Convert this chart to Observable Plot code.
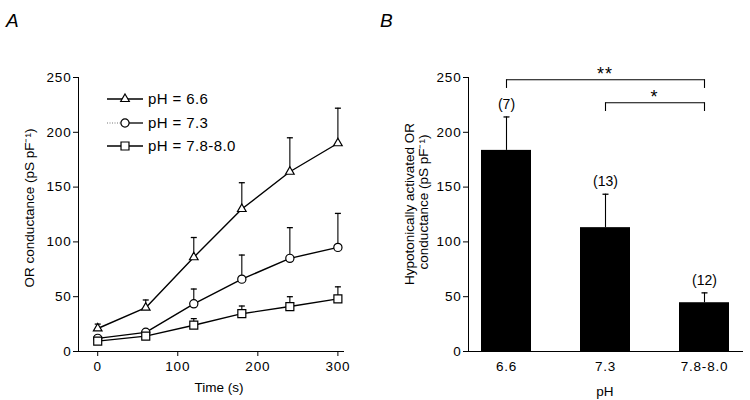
<!DOCTYPE html>
<html><head><meta charset="utf-8">
<script src="https://cdn.jsdelivr.net/npm/d3@7"></script>
<script src="https://cdn.jsdelivr.net/npm/@observablehq/plot@0.6"></script>
<style>
body{margin:0;background:#fff}
#wrap{position:relative;width:750px;height:400px;font-family:"Liberation Sans",Arial,Helvetica,sans-serif;background:#fff}
#pa,#pb,#ov{position:absolute;top:0}
#pa{left:0}#pb{left:375px}#ov{left:0;pointer-events:none}
#pa g[aria-label$="tick label"] text, #pb g[aria-label$="tick label"] text{letter-spacing:0.8px}
</style></head><body>
<div id="wrap"><div id="pa"></div><div id="pb"></div><svg id="ov" width="750" height="400"></svg></div>
<script>
// ---------- Panel A data ----------
const times = [0, 60, 120, 180, 240, 300];
const seriesNames = ["pH = 6.6", "pH = 7.3", "pH = 7.8-8.0"];
const ph66Mean = [21, 40, 86, 130, 164, 190];
const ph66Upper = [25, 47, 104, 154, 195, 222];
const ph73Mean = [12, 17.5, 43.5, 66, 85, 95];
const ph73Upper = [14, 19, 57, 88, 113, 126];
const ph78Mean = [9.5, 14, 24, 34.5, 41, 48];
const ph78Upper = [11, 15.5, 30, 41.5, 50, 59];
const timeTicks = [0, 100, 200, 300];
const condTicks = [0, 50, 100, 150, 200, 250];
const timeDomain = [-24, 307];
const condDomain = [0, 250];

// ---------- Panel B data ----------
const phGroups = ["6.6", "7.3", "7.8-8.0"];
const barMean = [183.5, 113, 44.5];
const barUpper = [214, 143.5, 53.5];
const nLabels = ["(7)", "(13)", "(12)"];
const sigFrom = ["6.6", "7.3"];
const sigTo = ["7.8-8.0", "7.8-8.0"];
const sigLevel = [248, 227];
const sigLabel = ["**", "*"];

const FONT = "'Liberation Sans', Arial, Helvetica, sans-serif";
const means = [ph66Mean, ph73Mean, ph78Mean];
const uppers = [ph66Upper, ph73Upper, ph78Upper];
const rows = [];
seriesNames.forEach((s, k) => times.forEach((t, i) => rows.push({series: s, t, mean: means[k][i], upper: uppers[k][i]})));
const symbols = ["triangle", "circle", "square"];
const symR = [3.2, 4.1, 4.5];

const capSymbol = {draw(ctx, size) { const w = Math.sqrt(size / Math.PI); ctx.moveTo(-w, 0); ctx.lineTo(w, 0); }};

const plotA = Plot.plot({
  width: 375, height: 400,
  marginLeft: 78, marginRight: 32, marginTop: 77, marginBottom: 49,
  style: {fontFamily: FONT, fontSize: "13.5px", background: "white", color: "black", overflow: "visible"},
  x: {domain: timeDomain},
  y: {domain: condDomain},
  marks: [
    Plot.frame({anchor: "left", stroke: "black"}),
    Plot.frame({anchor: "bottom", stroke: "black"}),
    Plot.axisY({ticks: condTicks, tickSize: 5, tickPadding: 2, label: null}),
    Plot.axisX({ticks: timeTicks, tickSize: 5, tickPadding: 5, label: null}),
    Plot.line(rows, {x: "t", y: "mean", z: "series", stroke: "black", strokeWidth: 1.4}),
    Plot.ruleX(rows, {x: "t", y1: "mean", y2: "upper", stroke: "black", strokeWidth: 1.1}),
    Plot.dot(rows, {x: "t", y: "upper", symbol: capSymbol, r: 3, stroke: "black", strokeWidth: 1.3, fill: "none"}),
    ...seriesNames.map((s, k) => Plot.dot(rows.filter(d => d.series === s),
      {x: "t", y: "mean", symbol: symbols[k], r: symR[k], fill: "white", stroke: "black", strokeWidth: 1.2}))
  ]
});
document.getElementById("pa").appendChild(plotA);

const bars = phGroups.map((p, i) => ({ph: p, mean: barMean[i], upper: barUpper[i], n: nLabels[i]}));
const sig = sigFrom.map((f, i) => ({from: f, to: sigTo[i], level: sigLevel[i], label: sigLabel[i]}));
const sigEnds = sig.flatMap(d => [{x: d.from, level: d.level}, {x: d.to, level: d.level}]);

const plotB = Plot.plot({
  width: 375, height: 400,
  marginLeft: 93, marginRight: 8, marginTop: 77, marginBottom: 49,
  style: {fontFamily: FONT, fontSize: "13.5px", background: "white", color: "black", overflow: "visible"},
  x: {domain: phGroups, paddingInner: 0.5, paddingOuter: 0.12},
  y: {domain: condDomain},
  marks: [
    Plot.barY(bars, {x: "ph", y: "mean", fill: "black"}),
    Plot.ruleX(bars, {x: "ph", y1: "mean", y2: "upper", stroke: "black", strokeWidth: 1.1}),
    Plot.dot(bars, {x: "ph", y: "upper", symbol: capSymbol, r: 3, stroke: "black", strokeWidth: 1.3, fill: "none"}),
    Plot.text(bars, {x: "ph", y: "upper", text: "n", dy: -8, lineAnchor: "bottom", fontSize: 14}),
    Plot.link(sig, {x1: "from", x2: "to", y1: "level", y2: "level", stroke: "black", strokeWidth: 1.1}),
    Plot.ruleX(sigEnds, {x: "x", y1: d => d.level - 8, y2: "level", stroke: "black", strokeWidth: 1.1}),
    Plot.frame({anchor: "left", stroke: "black"}),
    Plot.frame({anchor: "bottom", stroke: "black"}),
    Plot.axisY({ticks: condTicks, tickSize: 5, tickPadding: 2, label: null}),
    Plot.axisX({tickSize: 0, tickPadding: 10, label: null})
  ]
});
document.getElementById("pb").appendChild(plotB);

// ---------- overlay texts ----------
const ov = d3.select("#ov").style("font-family", FONT);
ov.append("text").attr("x", 6).attr("y", 27).attr("font-size", 19).attr("font-style", "italic").text("A");
ov.append("text").attr("x", 380).attr("y", 27).attr("font-size", 19).attr("font-style", "italic").text("B");
ov.append("text").attr("x", 219).attr("y", 392).attr("text-anchor", "middle").attr("font-size", 13.5).text("Time (s)");
ov.append("text").attr("x", 605).attr("y", 396).attr("text-anchor", "middle").attr("font-size", 13.5).text("pH");
ov.append("text").attr("transform", "translate(34,208) rotate(-90)").attr("text-anchor", "middle").attr("font-size", 13.5).text("OR conductance (pS pF\u207B\u00B9)");
ov.append("text").attr("transform", "translate(414,204) rotate(-90)").attr("text-anchor", "middle").attr("font-size", 13.5).text("Hypotonically activated OR");
ov.append("text").attr("transform", "translate(428,202) rotate(-90)").attr("text-anchor", "middle").attr("font-size", 13.5).text("conductance (pS pF\u207B\u00B9)");

// legend
const legY = [99, 123, 146];
const d3sym = [d3.symbolTriangle, d3.symbolCircle, d3.symbolSquare];
seriesNames.forEach((s, k) => {
  const g = ov.append("g").attr("transform", `translate(0,${legY[k]})`);
  if (k === 1) {
    g.append("line").attr("x1", 107).attr("x2", 121).attr("stroke", "#777").attr("stroke-dasharray", "1,1.5");
    g.append("line").attr("x1", 121).attr("x2", 143).attr("stroke", "black").attr("stroke-width", 1.3);
  } else {
    g.append("line").attr("x1", 107).attr("x2", 143).attr("stroke", "black").attr("stroke-width", 1.3);
  }
  g.append("path").attr("transform", "translate(125,0)")
    .attr("d", d3.symbol(d3sym[k], Math.PI * symR[k] * symR[k])())
    .attr("fill", "white").attr("stroke", "black").attr("stroke-width", 1.2);
  g.append("text").attr("x", 148).attr("dy", "0.36em").attr("font-size", 15).attr("letter-spacing", "0.4px").text(s);
});

// significance labels, placed through panel B's scales
const xs = plotB.scale("x"), ys = plotB.scale("y");
const bw = xs.bandwidth;
sig.forEach(d => {
  const x1 = xs.apply(d.from) + bw / 2, x2 = xs.apply(d.to) + bw / 2;
  ov.append("text").attr("x", 375 + (x1 + x2) / 2).attr("y", ys.apply(d.level) + 1)
    .attr("text-anchor", "middle").attr("font-size", 18).attr("letter-spacing", "1px").text(d.label);
});
</script>
</body></html>
